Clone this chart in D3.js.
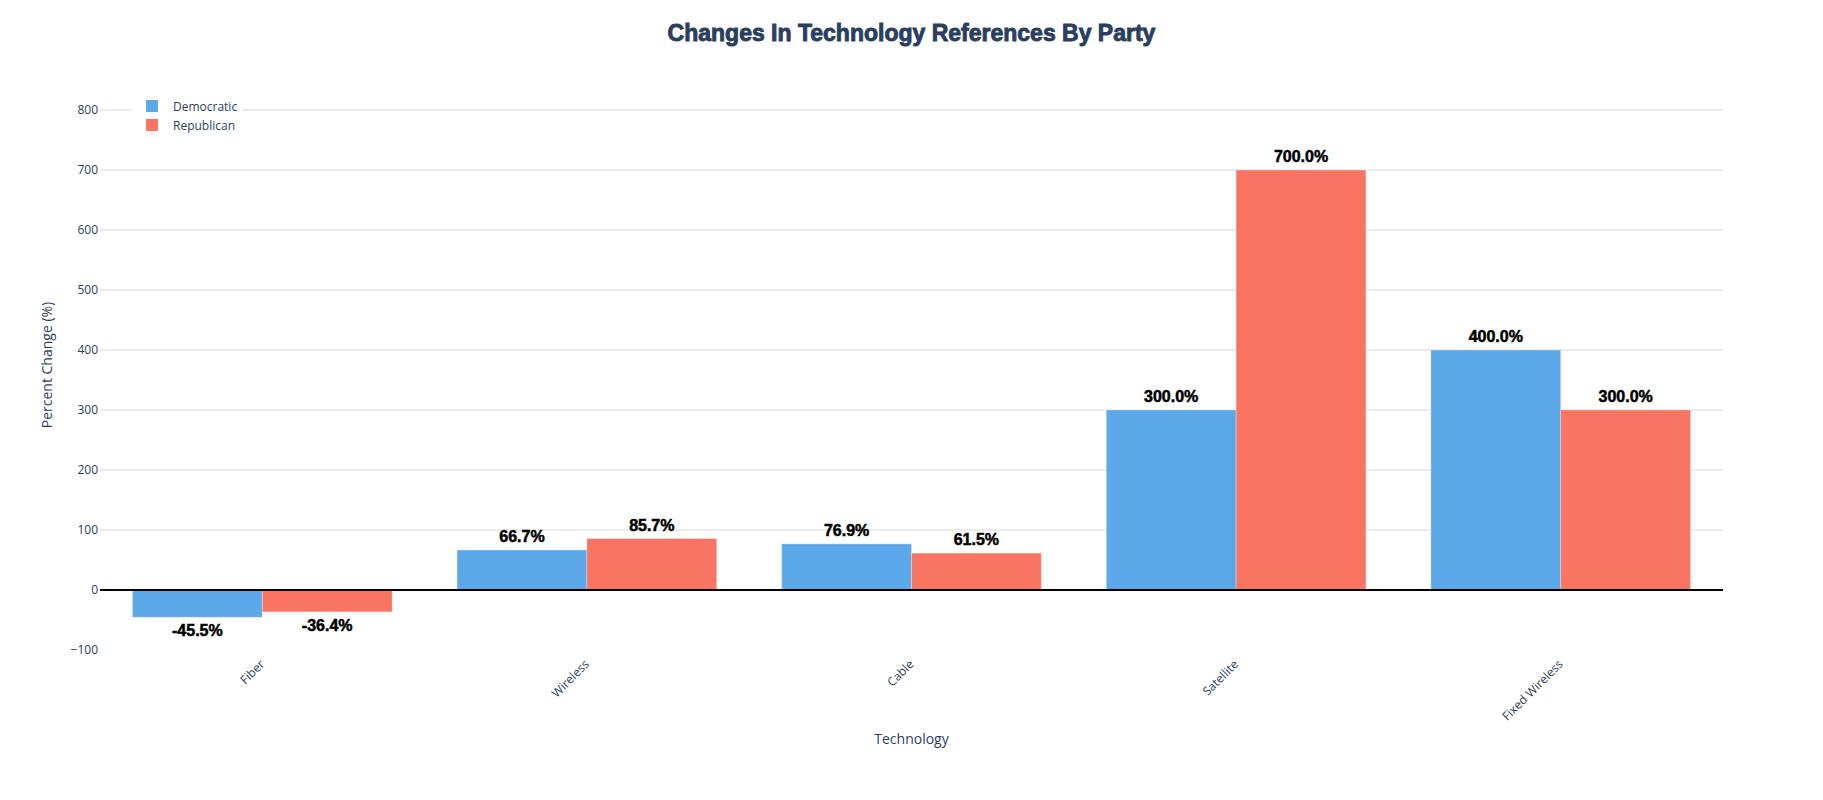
<!DOCTYPE html>
<html>
<head>
<meta charset="utf-8">
<script src="https://cdn.jsdelivr.net/npm/d3@7"></script>
<style>
    body { margin: 0; background: #fff; }
    text { font-family: "Open Sans", sans-serif; }
</style>
</head>
<body>
<div id="chart"></div>
<script>
// Data
const technologies = ['Fiber', 'Wireless', 'Cable', 'Satellite', 'Fixed Wireless'];
const parties = ['Democratic', 'Republican'];
const democratic = [-45.5, 66.7, 76.9, 300.0, 400.0];
const republican = [-36.4, 85.7, 61.5, 700.0, 300.0];
const yTicks = [-100, 0, 100, 200, 300, 400, 500, 600, 700, 800];

// Configuration
const config = {
    width: 1823,
    height: 800,
    margin: { top: 80, right: 100, bottom: 150, left: 100 },
    colors: { Democratic: '#5da8e8', Republican: '#f97461' },
    textColor: '#2a3f5f'
};

const svg = d3.select('#chart')
    .append('svg')
    .attr('width', config.width)
    .attr('height', config.height);

const x0 = d3.scaleBand()
    .domain(technologies)
    .range([config.margin.left, config.width - config.margin.right])
    .paddingInner(0.2)
    .paddingOuter(0.1);

const x1 = d3.scaleBand()
    .domain(parties)
    .range([0, x0.bandwidth()]);

const y = d3.scaleLinear()
    .domain([-100, 850])
    .range([config.height - config.margin.bottom, config.margin.top]);

// Grid lines
svg.append('g')
    .selectAll('line')
    .data(yTicks.filter(d => d > 0))
    .enter()
    .append('line')
    .attr('x1', config.margin.left)
    .attr('x2', config.width - config.margin.right)
    .attr('y1', d => y(d))
    .attr('y2', d => y(d))
    .attr('stroke', '#d8d8d8')
    .attr('stroke-width', 1);

// Y axis ticks
const yAxis = svg.append('g')
    .attr('transform', `translate(${config.margin.left},0)`)
    .call(d3.axisLeft(y).tickValues(yTicks).tickSize(0).tickPadding(2).tickFormat(d => d < 0 ? '\u2212' + Math.abs(d) : d));
yAxis.select('.domain').remove();
yAxis.selectAll('text')
    .attr('fill', config.textColor)
    .style('font-size', '12px')
    .style('font-family', '"Open Sans", sans-serif');

// Bars
const series = { Democratic: democratic, Republican: republican };
const rows = [];
technologies.forEach((tech, i) => {
    parties.forEach(p => rows.push({ tech, party: p, value: series[p][i] }));
});

svg.append('g')
    .selectAll('rect')
    .data(rows)
    .enter()
    .append('rect')
    .attr('x', d => x0(d.tech) + x1(d.party))
    .attr('y', d => y(Math.max(0, d.value)))
    .attr('width', x1.bandwidth())
    .attr('height', d => Math.abs(y(d.value) - y(0)))
    .attr('fill', d => config.colors[d.party])
    .attr('stroke', '#ffffff')
    .attr('stroke-opacity', 0.3)
    .attr('stroke-width', 1);

// Zero line
svg.append('line')
    .attr('x1', config.margin.left)
    .attr('x2', config.width - config.margin.right)
    .attr('y1', y(0))
    .attr('y2', y(0))
    .attr('stroke', '#000')
    .attr('stroke-width', 2);

// Value labels
svg.append('g')
    .selectAll('text')
    .data(rows)
    .enter()
    .append('text')
    .attr('x', d => x0(d.tech) + x1(d.party) + x1.bandwidth() / 2)
    .attr('y', d => d.value >= 0 ? y(d.value) - 8 : y(d.value) + 19)
    .attr('text-anchor', 'middle')
    .style('font-family', '"Liberation Sans", Arial, sans-serif')
    .style('font-weight', 'bold')
    .style('font-size', '16px')
    .attr('fill', '#000')
    .attr('stroke', '#000')
    .attr('stroke-width', 0.5)
    .text(d => d.value.toFixed(1) + '%');

// X tick labels
svg.append('g')
    .selectAll('text')
    .data(technologies)
    .enter()
    .append('text')
    .attr('transform', d => `translate(${x0(d) + x0.bandwidth() / 2},${y(-100) + 12}) rotate(-45)`)
    .attr('text-anchor', 'end')
    .attr('dy', '0.35em')
    .attr('fill', config.textColor)
    .style('font-size', '12px')
    .text(d => d);

// Axis titles
svg.append('text')
    .attr('x', (config.margin.left + config.width - config.margin.right) / 2)
    .attr('y', 744)
    .attr('text-anchor', 'middle')
    .attr('fill', config.textColor)
    .style('font-size', '14px')
    .text('Technology');

svg.append('text')
    .attr('transform', `translate(52,${(y(-100) + y(850)) / 2}) rotate(-90)`)
    .attr('text-anchor', 'middle')
    .attr('fill', config.textColor)
    .style('font-size', '14px')
    .text('Percent Change (%)');

// Title
svg.append('text')
    .attr('x', config.width / 2)
    .attr('y', 41)
    .attr('text-anchor', 'middle')
    .attr('fill', config.textColor)
    .attr('stroke', config.textColor)
    .attr('stroke-width', 0.9)
    .style('font-family', '"Liberation Sans", Arial, sans-serif')
    .style('font-weight', 'bold')
    .style('font-size', '23px')
    .text('Changes In Technology References By Party');

// Legend
const legend = svg.append('g');
legend.append('rect')
    .attr('x', 132)
    .attr('y', 96)
    .attr('width', 110)
    .attr('height', 40)
    .attr('fill', '#fff');

parties.forEach((p, i) => {
    legend.append('rect')
        .attr('x', 146)
        .attr('y', 100 + i * 19)
        .attr('width', 12)
        .attr('height', 12)
        .attr('fill', config.colors[p]);
    legend.append('text')
        .attr('x', 173)
        .attr('y', 110.5 + i * 19)
        .attr('fill', config.textColor)
        .style('font-size', '12px')
        .text(p);
});
</script>
</body>
</html>
